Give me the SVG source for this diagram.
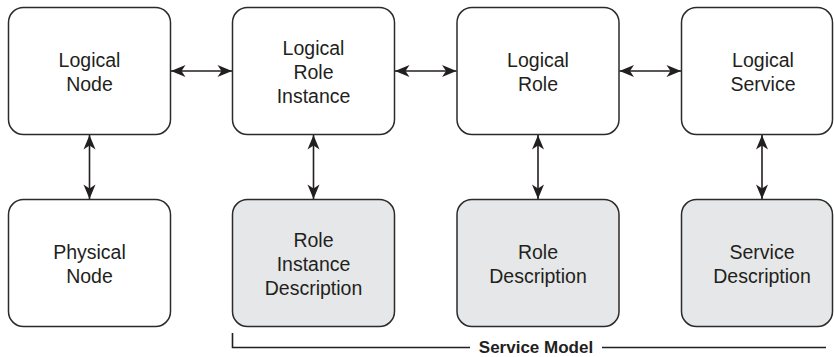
<svg xmlns="http://www.w3.org/2000/svg" width="834" height="357" viewBox="0 0 834 357">
<style>
.box{stroke:#2b2b2b;stroke-width:1.5;fill:#ffffff}
.desc{fill:#e6e7e8}
.t{font-family:"Liberation Sans",Arial,sans-serif;font-size:19.5px;fill:#231f20;text-anchor:middle}
.c{stroke:#231f20;stroke-width:1.6;fill:none}
.lbl{font-family:"Liberation Sans",Arial,sans-serif;font-size:17px;font-weight:bold;fill:#231f20;text-anchor:middle}
</style>
<defs>
<marker id="ah" markerUnits="userSpaceOnUse" markerWidth="18" markerHeight="14" viewBox="-16 -7 18 14" refX="0" refY="0" orient="auto-start-reverse">
<path d="M0,0 L-14.5,-6 L-10.5,0 L-14.5,6 Z" fill="#231f20"/>
</marker>
</defs>
<g id="logical-node">
<rect class="box" x="8.5" y="7.5" width="162" height="127" rx="15"/>
<text class="t" x="89.5" y="67">Logical</text>
<text class="t" x="89.5" y="91">Node</text>
</g>
<g id="logical-role-instance">
<rect class="box" x="232.5" y="7.5" width="162" height="127" rx="15"/>
<text class="t" x="313.5" y="55">Logical</text>
<text class="t" x="313.5" y="79">Role</text>
<text class="t" x="313.5" y="103">Instance</text>
</g>
<g id="logical-role">
<rect class="box" x="457" y="7.5" width="162" height="127" rx="15"/>
<text class="t" x="538" y="67">Logical</text>
<text class="t" x="538" y="91">Role</text>
</g>
<g id="logical-service">
<rect class="box" x="681.5" y="7.5" width="151" height="127" rx="15"/>
<text class="t" x="763" y="67">Logical</text>
<text class="t" x="763" y="91">Service</text>
</g>
<g id="physical-node">
<rect class="box" x="8.5" y="199.5" width="162" height="127" rx="15"/>
<text class="t" x="89.5" y="259">Physical</text>
<text class="t" x="89.5" y="283">Node</text>
</g>
<g id="role-instance-description">
<rect class="box desc" x="232.5" y="199.5" width="162" height="127" rx="15"/>
<text class="t" x="313.5" y="247">Role</text>
<text class="t" x="313.5" y="271">Instance</text>
<text class="t" x="313.5" y="295">Description</text>
</g>
<g id="role-description">
<rect class="box desc" x="457" y="199.5" width="162" height="127" rx="15"/>
<text class="t" x="538" y="259">Role</text>
<text class="t" x="538" y="283">Description</text>
</g>
<g id="service-description">
<rect class="box desc" x="681.5" y="199.5" width="151" height="127" rx="15"/>
<text class="t" x="762" y="259">Service</text>
<text class="t" x="762" y="283">Description</text>
</g>
<g id="connectors">
<line class="c" x1="171" y1="71" x2="232" y2="71" marker-start="url(#ah)" marker-end="url(#ah)"/>
<line class="c" x1="395" y1="71" x2="456.5" y2="71" marker-start="url(#ah)" marker-end="url(#ah)"/>
<line class="c" x1="619.5" y1="71" x2="681" y2="71" marker-start="url(#ah)" marker-end="url(#ah)"/>
<line class="c" x1="89.5" y1="135" x2="89.5" y2="199" marker-start="url(#ah)" marker-end="url(#ah)"/>
<line class="c" x1="313.5" y1="135" x2="313.5" y2="199" marker-start="url(#ah)" marker-end="url(#ah)"/>
<line class="c" x1="538" y1="135" x2="538" y2="199" marker-start="url(#ah)" marker-end="url(#ah)"/>
<line class="c" x1="762" y1="135" x2="762" y2="199" marker-start="url(#ah)" marker-end="url(#ah)"/>
</g>
<g id="service-model">
<path class="c" d="M232.5,333 V347.5 H470"/>
<line class="c" x1="602" y1="347.5" x2="826" y2="347.5"/>
<text class="lbl" x="536" y="352.5">Service Model</text>
</g>
</svg>
